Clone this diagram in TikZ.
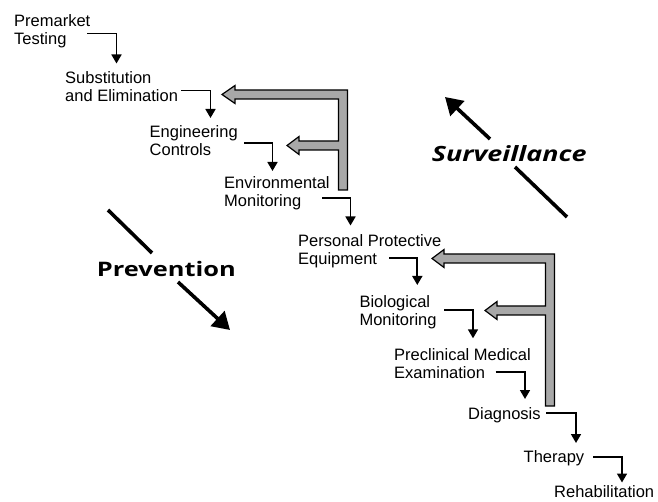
\documentclass[tikz,border=0pt]{standalone}
\usepackage{fontspec}
\setmainfont{Liberation Sans}
\newfontfamily\bigfont{Open Sans}
\usetikzlibrary{arrows.meta,calc}
\definecolor{blockgray}{gray}{0.66}
\begin{document}
\begin{tikzpicture}[x=1pt,y=-1pt,
  lbl/.style={anchor=base west, inner sep=0pt, align=left, font=\fontsize{16.5}{18}\selectfont},
  elbow/.style={line width=1.7pt, -{Triangle[length=9pt,width=10pt]}},
  bigline/.style={line width=3.6pt},
  bigarrow/.style={line width=3.6pt, -{Triangle[length=17pt,width=20pt]}},
  phase/.style={anchor=base west, inner sep=0pt, font=\bigfont\bfseries\fontsize{20}{24}\selectfont},
  block/.style={draw=black, line width=1.2pt, fill=blockgray, line join=miter}
]
\useasboundingbox (0,0) rectangle (658,502);

% labels (base = baseline of last line)
\node[lbl] (pre) at (14,45) {Premarket\\Testing};
\node[lbl] (sub) at (65,101.5) {Substitution\\and Elimination};
\node[lbl] (eng) at (149.5,155.5) {Engineering\\Controls};
\node[lbl] (env) at (224,206.3) {Environmental\\Monitoring};
\node[lbl] (ppe) at (298,265) {Personal Protective\\Equipment};
\node[lbl] (bio) at (359.3,325.3) {Biological\\Monitoring};
\node[lbl] (pme) at (394,378.5) {Preclinical Medical\\Examination};
\node[lbl] (dia) at (468,419.3) {Diagnosis};
\node[lbl] (the) at (523.5,462.7) {Therapy};
\node[lbl] (reh) at (554,497) {Rehabilitation};

% elbow connectors
\draw[elbow] ($(pre.base west)+(73,-11.5)$) -| ($(sub.base west)+(51.5,-38)$);
\draw[elbow] ($(sub.base west)+(116,-11)$) -| ($(eng.base west)+(61,-37.5)$);
\draw[elbow] ($(eng.base west)+(94.5,-12.8)$) -| ($(env.base west)+(48.5,-35.3)$);
\draw[elbow] ($(env.base west)+(98,-8.3)$) -| ($(ppe.base west)+(52.5,-39.5)$);
\draw[elbow] ($(ppe.base west)+(91.3,-7.3)$) -| ($(bio.base west)+(58,-40.3)$);
\draw[elbow] ($(bio.base west)+(84.7,-15)$) -| ($(pme.base west)+(79,-40.2)$);
\draw[elbow] ($(pme.base west)+(101.7,-6.8)$) -| ($(dia.base west)+(57,-20.3)$);
\draw[elbow] ($(dia.base west)+(78,-6.3)$) -| ($(the.base west)+(52.5,-19.7)$);
\draw[elbow] ($(the.base west)+(69.5,-5.7)$) -| ($(reh.base west)+(68,-14.5)$);

% grey feedback block arrows
\draw[block] (222,94.5) -- (235,85.5) -- (235,90) -- (347.5,90) -- (347.5,190)
  -- (338.5,190) -- (338.5,150) -- (299,150) -- (299,154.5) -- (287,145.5)
  -- (299,136.5) -- (299,141) -- (338.5,141) -- (338.5,99) -- (235,99)
  -- (235,103.5) -- cycle;
\draw[block] (432,258.5) -- (444,249.5) -- (444,254) -- (554.5,254) -- (554.5,406)
  -- (545.5,406) -- (545.5,315) -- (497,315) -- (497,319.5) -- (485,310.5)
  -- (497,301.5) -- (497,306) -- (545.5,306) -- (545.5,263) -- (444,263)
  -- (444,267.5) -- cycle;

% phase labels and arrows
\node[phase] (prev) at (96.7,276.7) {\scalebox{1.27}[1]{Prevention}};
\node[phase, font=\bigfont\bfseries\fontsize{21}{24}\selectfont] (surv) at (431.7,161.7) {\scalebox{1.28}[1]{\itshape Surveillance}};
\coordinate (pa) at (108,210);
\coordinate (pb) at (152,253);
\coordinate (pc) at (178,282);
\coordinate (pd) at (230,330);
\draw[bigline] (pa) -- (pb);
\draw[bigarrow] (pc) -- (pd);
\coordinate (sa) at (567,217);
\coordinate (sb) at (515,167);
\coordinate (sc) at (490,139);
\coordinate (sd) at (445,97);
\draw[bigline] (sa) -- (sb);
\draw[bigarrow] (sc) -- (sd);
\end{tikzpicture}
\end{document}
